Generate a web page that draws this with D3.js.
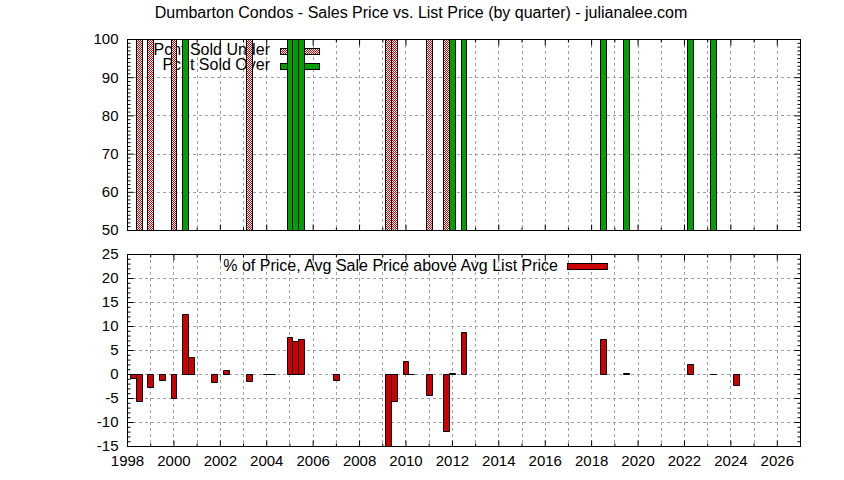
<!DOCTYPE html>
<html>
<head>
<meta charset="utf-8">
<script src="https://cdn.jsdelivr.net/npm/d3@7"></script>
<style>
body{margin:0;background:#fff;}
svg{display:block;font-family:"Liberation Sans",Arial,sans-serif;}
</style>
</head>
<body>
<svg id="chart" width="844" height="480"></svg>
<script>
// ---- data ----
const title = "Dumbarton Condos - Sales Price vs. List Price (by quarter) - julianalee.com";
const xTicks = [1998,2000,2002,2004,2006,2008,2010,2012,2014,2016,2018,2020,2022,2024,2026];
const topYTicks = [50,60,70,80,90,100];
const botYTicks = [-15,-10,-5,0,5,10,15,20,25];

const underQuarters = [1998.5,1999.0,2000.0,2003.25,2009.25,2009.5,2011.0,2011.75];
const underValues   = [100,100,100,100,100,100,100,100];
const overQuarters  = [2000.5,2005.0,2005.25,2005.5,2012.0,2012.5,2018.5,2019.5,2022.25,2023.25];
const overValues    = [100,100,100,100,100,100,100,100,100,100];

const pctQuarters = [1998.25,1998.5,1999.0,1999.5,2000.0,2000.5,2000.75,2001.75,2002.25,2003.25,
                     2004.0,2004.25,2005.0,2005.25,2005.5,2007.0,2009.25,2009.5,2010.0,2010.25,
                     2011.0,2011.75,2012.0,2012.5,2018.5,2019.5,2022.25,2023.25,2024.25];
const pctValues   = [-0.9,-5.7,-2.75,-1.3,-5.05,12.5,3.5,-1.7,0.8,-1.5,
                     0,0,7.7,6.8,7.3,-1.3,-15,-5.7,2.7,0,
                     -4.4,-11.9,0.2,8.7,7.3,0.2,2.1,0,-2.2];

const legendUnder = "Pcnt Sold Under";
const legendOver = "Pcnt Sold Over";
const legendPct = "% of Price, Avg Sale Price above Avg List Price";

// ---- layout ----
const svg = d3.select("#chart");
const L = 127, R = 800;
const topP = {y0: 39, y1: 230};
const botP = {y0: 254, y1: 446};
const FS = 15, LFS = 16;

const x = d3.scaleLinear().domain([1998, 2027]).range([L, R]);
const yTop = d3.scaleLinear().domain([50, 100]).range([topP.y1, topP.y0]);
const yBot = d3.scaleLinear().domain([-15, 25]).range([botP.y1, botP.y0]);

const defs = svg.append("defs");
const pat = defs.append("pattern").attr("id","chk").attr("patternUnits","userSpaceOnUse")
  .attr("width",2).attr("height",2);
pat.append("rect").attr("width",2).attr("height",2).attr("fill","#fff");
pat.append("rect").attr("x",0).attr("y",0).attr("width",1).attr("height",1).attr("fill","#e00000");
pat.append("rect").attr("x",1).attr("y",1).attr("width",1).attr("height",1).attr("fill","#e00000");

["clipTop","clipBot"].forEach((id,i)=>{
  const p = i===0?topP:botP;
  defs.append("clipPath").attr("id",id).append("rect")
    .attr("x",L).attr("y",p.y0).attr("width",R-L).attr("height",p.y1-p.y0);
});

svg.append("text").attr("x",421).attr("y",18).attr("text-anchor","middle")
  .attr("font-size",16).text(title);

const years = d3.range(1999, 2027);
const fmt = d => String(d);

function panel(p, y, yTicks, minorStep, showXLabels) {
  const g = svg.append("g");
  const grid = g.append("g").attr("stroke","#a0a0a0").attr("stroke-dasharray","3,3").attr("stroke-width",1);
  years.forEach(yr => grid.append("line").attr("x1",Math.round(x(yr))+0.5).attr("x2",Math.round(x(yr))+0.5)
     .attr("y1",p.y0).attr("y2",p.y1));
  yTicks.slice(1,-1).forEach(v => grid.append("line").attr("x1",L).attr("x2",R)
     .attr("y1",Math.round(y(v))+0.5).attr("y2",Math.round(y(v))+0.5));
  const minorVals = d3.range(y.domain()[0], y.domain()[1]+0.001, minorStep).filter(v=>!yTicks.includes(v));
  const minorYears = years.filter(v=>!xTicks.includes(v));
  g.append("g").attr("transform",`translate(${L+0.5},0)`)
    .call(d3.axisLeft(y).tickValues(yTicks).tickSize(-6).tickPadding(9).tickFormat(fmt));
  g.append("g").attr("transform",`translate(${L+0.5},0)`)
    .call(d3.axisLeft(y).tickValues(minorVals).tickSize(-3).tickFormat(""));
  g.append("g").attr("transform",`translate(${R+0.5},0)`)
    .call(d3.axisRight(y).tickValues(yTicks).tickSize(-6).tickFormat(""));
  g.append("g").attr("transform",`translate(${R+0.5},0)`)
    .call(d3.axisRight(y).tickValues(minorVals).tickSize(-3).tickFormat(""));
  g.append("g").attr("transform",`translate(0,${p.y1+0.5})`)
    .call(d3.axisBottom(x).tickValues(xTicks).tickSize(-6).tickPadding(showXLabels?9:0)
      .tickFormat(showXLabels?fmt:""));
  g.append("g").attr("transform",`translate(0,${p.y1+0.5})`)
    .call(d3.axisBottom(x).tickValues(minorYears).tickSize(-3).tickFormat(""));
  g.append("g").attr("transform",`translate(0,${p.y0+0.5})`)
    .call(d3.axisTop(x).tickValues(xTicks).tickSize(-6).tickFormat(""));
  g.append("g").attr("transform",`translate(0,${p.y0+0.5})`)
    .call(d3.axisTop(x).tickValues(minorYears).tickSize(-3).tickFormat(""));
  g.selectAll(".domain").remove();
  g.selectAll(".tick line").attr("stroke","#000");
  g.selectAll(".tick text").attr("font-size",FS).attr("fill","#000")
    .attr("font-family","Liberation Sans, Arial, sans-serif");
  return g;
}

function border(p){
  svg.append("rect").attr("x",L+0.5).attr("y",p.y0+0.5).attr("width",R-L).attr("height",p.y1-p.y0)
    .attr("fill","none").attr("stroke","#000").attr("stroke-width",1);
}

function barPath(t, v, y, base) {
  const x0 = Math.round(x(t-0.125))+0.5, x1 = Math.round(x(t+0.125))+0.5;
  const yb = Math.round(y(base))+0.5, yv = Math.round(y(v))+0.5;
  return `M${x0},${yb}H${x1}V${yv}H${x0}Z`;
}

// ---- top panel ----
panel(topP, yTop, topYTicks, 1, false);
svg.append("text").attr("x",270).attr("y",55).attr("text-anchor","end").attr("font-size",LFS).text(legendUnder);
svg.append("rect").attr("x",280.5).attr("y",48.5).attr("width",39).attr("height",6)
  .attr("fill","url(#chk)").attr("stroke","#000");
svg.append("text").attr("x",270).attr("y",70).attr("text-anchor","end").attr("font-size",LFS).text(legendOver);
svg.append("rect").attr("x",280.5).attr("y",63.5).attr("width",39).attr("height",6)
  .attr("fill","#00a000").attr("stroke","#000");

const gTop = svg.append("g").attr("clip-path","url(#clipTop)");
gTop.selectAll("path.under").data(underQuarters).join("path").attr("class","under")
  .attr("d",(t,i)=>barPath(t, underValues[i], yTop, 50))
  .attr("fill","url(#chk)").attr("stroke","#000").attr("stroke-width",1);
gTop.selectAll("path.over").data(overQuarters).join("path").attr("class","over")
  .attr("d",(t,i)=>barPath(t, overValues[i], yTop, 50))
  .attr("fill","#00a000").attr("stroke","#000").attr("stroke-width",1);
border(topP);

// ---- bottom panel ----
panel(botP, yBot, botYTicks, 1, true);
svg.append("text").attr("x",558).attr("y",271).attr("text-anchor","end").attr("font-size",LFS).text(legendPct);
svg.append("rect").attr("x",567.5).attr("y",263.5).attr("width",40).attr("height",6)
  .attr("fill","#cc0000").attr("stroke","#000");
const gBot = svg.append("g").attr("clip-path","url(#clipBot)");
gBot.selectAll("path.pct").data(pctQuarters).join("path").attr("class","pct")
  .attr("d",(t,i)=>barPath(t, pctValues[i], yBot, 0))
  .attr("fill","#cc0000").attr("stroke","#000").attr("stroke-width",1);
border(botP);
</script>
</body>
</html>
